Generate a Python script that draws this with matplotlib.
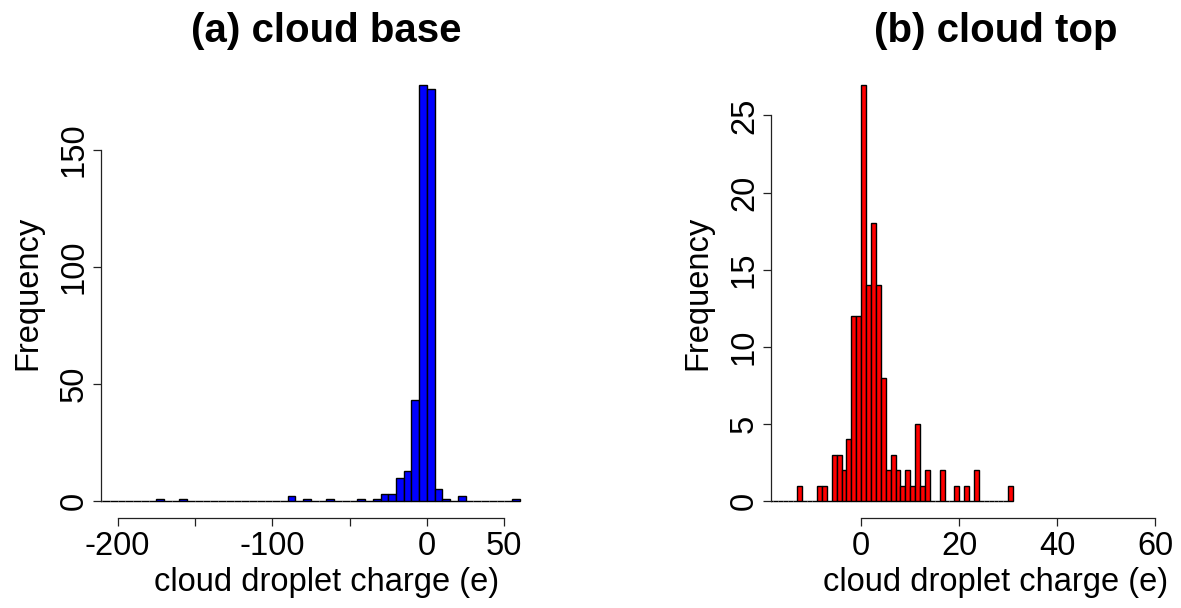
import matplotlib
matplotlib.use("Agg")
import matplotlib.pyplot as plt
import numpy as np

plt.rcParams['font.family'] = ['Liberation Sans', 'DejaVu Sans']
plt.rcParams['axes.unicode_minus'] = False

# (a) cloud base, bins of width 5 starting at -215
baseStart, baseWidth = -215, 5
baseCounts = [0, 0, 0, 0, 0, 0, 0, 0,            # -215 .. -180
              1, 0, 0, 1,                        # -175 .. -160
              0, 0, 0, 0, 0, 0, 0, 0, 0, 0, 0, 0, 0,  # -155 .. -95
              2, 0, 1, 0, 0, 1, 0, 0, 0, 1, 0, 1,     # -90 .. -35
              3, 3, 10, 13, 43, 178,                  # -30 .. -5
              176, 5, 1, 0, 2, 0, 0, 0, 0, 0, 0, 1]   # 0 .. 55

# (b) cloud top, bins of width 1 starting at -20
topStart, topWidth = -20, 1
topCounts = [0, 0, 0, 0, 0, 0, 0,                # -20 .. -14
             1, 0, 0, 0, 1, 1, 0,                # -13 .. -7
             3, 3, 2, 4, 12, 12,                 # -6 .. -1
             27, 14, 18, 14, 8, 2, 3, 2, 1, 2,   # 0 .. 9
             1, 5, 1, 2, 0, 0, 2, 0, 0, 1,       # 10 .. 19
             0, 1, 0, 2, 0, 0, 0, 0, 0, 0, 1]    # 20 .. 30

baseXTicks = [-200, -150, -100, -50, 0, 50]
baseXLabels = ['-200', '', '-100', '', '0', '50']   # R drops the overlapping ones
baseYTicks = [0, 50, 100, 150]
topXTicks = [0, 20, 40, 60]
topYTicks = [0, 5, 10, 15, 20, 25]

FS = 23.5


def drawHistogram(ax, start, width, counts, color, title, xticks, yticks, xlim, ylim):
    edges = start + width * np.arange(len(counts))
    ax.bar(edges, counts, width=width, align='edge', color=color,
           edgecolor='black', linewidth=1.0)
    ax.set_xlim(*xlim)
    ax.set_ylim(*ylim)
    ax.set_xticks(xticks)
    ax.set_yticks(yticks)
    for s in ['top', 'right']:
        ax.spines[s].set_visible(False)
    ax.spines['bottom'].set_bounds(xticks[0], xticks[-1])
    ax.spines['left'].set_bounds(yticks[0], yticks[-1])
    for s in ['bottom', 'left']:
        ax.spines[s].set_linewidth(0.9)
        ax.spines[s].set_color('#222222')
    ax.tick_params(length=5.8, width=0.9, color='#222222', labelsize=FS, pad=3.6)
    ax.tick_params(axis='y', labelrotation=90, pad=2.2)
    for lab in ax.get_yticklabels():
        lab.set_verticalalignment('center')
    ax.set_title(title, fontsize=29, fontweight='bold', pad=18.6)
    ax.set_xlabel('cloud droplet charge (e)', fontsize=FS)
    ax.set_ylabel('Frequency', fontsize=FS)
    ax.xaxis.set_label_coords(0.5, -0.1096)
    ax.yaxis.set_label_coords(-0.128, 0.5)


fig = plt.figure(figsize=(11.81, 6.08), dpi=100)
ax1 = fig.add_axes([100.9 / 1181, 90.3 / 608, 451 / 1181, 449.8 / 608])
ax2 = fig.add_axes([771 / 1181, 90.3 / 608, 450 / 1181, 449.8 / 608])

drawHistogram(ax1, baseStart, baseWidth, baseCounts, '#0000FF', '(a) cloud base',
              baseXTicks, baseYTicks, (-210.8, 80.8), (-7.12, 185.12))
ax1.set_xticklabels(baseXLabels)
drawHistogram(ax2, topStart, topWidth, topCounts, '#FF0000', '(b) cloud top',
              topXTicks, topYTicks, (-18.4, 73.4), (-1.08, 28.08))

fig.savefig('out.png', dpi=100)
